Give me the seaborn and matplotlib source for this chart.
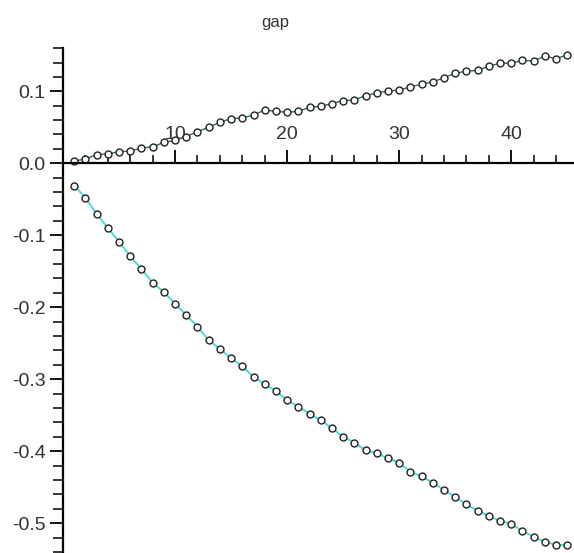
import matplotlib
matplotlib.use("Agg")
import matplotlib.pyplot as plt
import seaborn as sns
from matplotlib.ticker import MultipleLocator, FormatStrFormatter, FixedLocator


# =========================
# data
# =========================
step = [1, 2, 3, 4, 5, 6, 7, 8, 9, 10,
        11, 12, 13, 14, 15, 16, 17, 18, 19, 20,
        21, 22, 23, 24, 25, 26, 27, 28, 29, 30,
        31, 32, 33, 34, 35, 36, 37, 38, 39, 40,
        41, 42, 43, 44, 45]

gap_upper = [0.003, 0.006, 0.012, 0.013, 0.016, 0.017, 0.021, 0.023, 0.029, 0.032,
             0.037, 0.044, 0.050, 0.057, 0.062, 0.063, 0.067, 0.074, 0.072, 0.071,
             0.072, 0.078, 0.079, 0.083, 0.087, 0.088, 0.094, 0.098, 0.100, 0.102,
             0.106, 0.110, 0.113, 0.119, 0.125, 0.128, 0.129, 0.135, 0.139, 0.139,
             0.143, 0.142, 0.149, 0.145, 0.151]

gap_lower = [-0.031, -0.048, -0.070, -0.090, -0.109, -0.129, -0.147, -0.166, -0.179, -0.195,
             -0.211, -0.227, -0.246, -0.258, -0.271, -0.282, -0.297, -0.307, -0.316, -0.329,
             -0.338, -0.348, -0.357, -0.368, -0.380, -0.388, -0.399, -0.403, -0.410, -0.416,
             -0.429, -0.435, -0.444, -0.454, -0.464, -0.474, -0.483, -0.490, -0.497, -0.501,
             -0.511, -0.519, -0.526, -0.530, -0.531]

x_major = [10, 20, 30, 40]
title = "gap"


# =========================
# style
# =========================
sns.set_style("white")
plt.rcParams["font.family"] = ["Liberation Sans", "DejaVu Sans"]
plt.rcParams["axes.unicode_minus"] = False

fig = plt.figure(figsize=(5.74, 5.53), dpi=100)
ax = fig.add_axes([63 / 574, 0.002, 1 - 63 / 574, 0.911])

marker_kw = dict(marker="o", markersize=5, markerfacecolor="white",
                 markeredgecolor="#222222", markeredgewidth=1.0)

sns.lineplot(x=step, y=gap_upper, ax=ax, color="#2e6b6b", linewidth=1.0, **marker_kw)
sns.lineplot(x=step, y=gap_lower, ax=ax, color="#48dcd4", linewidth=1.4, **marker_kw)

ax.set_xlim(0, 45.6)
ax.set_ylim(-0.54, 0.16)

# axes crossing at the origin
ax.spines["left"].set_position(("data", 0))
ax.spines["bottom"].set_position(("data", 0))
ax.spines["top"].set_visible(False)
ax.spines["right"].set_visible(False)
for s in ["left", "bottom"]:
    ax.spines[s].set_linewidth(1.6)
    ax.spines[s].set_color("black")

ax.xaxis.set_major_locator(FixedLocator(x_major))
ax.xaxis.set_minor_locator(MultipleLocator(2))
ax.yaxis.set_major_locator(MultipleLocator(0.1))
ax.yaxis.set_minor_locator(MultipleLocator(0.02))
ax.yaxis.set_major_formatter(FormatStrFormatter("%.1f"))

ax.tick_params(which="both", bottom=True, left=True, top=False, right=False)
ax.tick_params(axis="x", which="major", direction="in", length=9.5, width=1.3,
               labelsize=14, pad=-27, colors="black", labelcolor="#333333")
ax.tick_params(axis="x", which="minor", direction="in", length=6, width=1.3)
ax.tick_params(axis="y", which="major", direction="out", length=9.5, width=1.3,
               labelsize=14, pad=3, colors="black", labelcolor="#333333")
ax.tick_params(axis="y", which="minor", direction="out", length=7, width=1.3)

ax.set_xlabel("")
ax.set_ylabel("")
ax.grid(False)

fig.text(275 / 574, 1 - 22 / 553, title, ha="center", va="center",
         fontsize=12, color="#333333")

plt.savefig("out.png", dpi=100)
